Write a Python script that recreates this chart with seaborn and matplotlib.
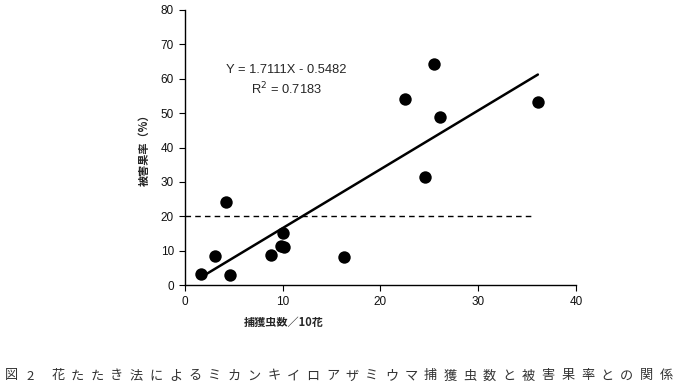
import numpy as np
import pandas as pd
import matplotlib
matplotlib.use("Agg")
import matplotlib.pyplot as plt
import seaborn as sns

# Data
catch_counts = [1.6, 3.1, 4.15, 4.6, 8.75, 9.8, 10.1, 10.05, 16.3, 22.5, 24.6, 25.5, 26.1, 36.1]
damage_rates = [3.2, 8.3, 24.2, 3.0, 8.8, 11.3, 11.1, 15.0, 8.1, 54.2, 31.5, 64.4, 49.0, 53.2]
slope = 1.7111
intercept = -0.5482
r_squared = 0.7183
threshold = 20
threshold_xmax = 35.6
x_ticks = [0, 10, 20, 30, 40]
y_ticks = [0, 10, 20, 30, 40, 50, 60, 70, 80]

sns.set_theme(style="ticks")
plt.rcParams['font.family'] = ['Liberation Sans', 'Noto Sans CJK JP', 'DejaVu Sans']

fig = plt.figure(figsize=(6.8, 3.85), dpi=100)
ax = fig.add_axes([185/680, 1-285/385, (576-185)/680, (285-10)/385])

df = pd.DataFrame({"x": catch_counts, "y": damage_rates})
sns.scatterplot(data=df, x="x", y="y", ax=ax, color="black", s=80,
                edgecolor="black", linewidth=0, zorder=3)

xs = np.array([min(catch_counts), max(catch_counts)])
line_df = pd.DataFrame({"x": xs, "y": slope*xs + intercept})
sns.lineplot(data=line_df, x="x", y="y", ax=ax, color="black", linewidth=1.8)

ax.plot([0, threshold_xmax], [threshold, threshold], color="black",
        linestyle=(0, (4, 3)), linewidth=1.0)

ax.set_xlim(0, 40)
ax.set_ylim(0, 80)
ax.set_xticks(x_ticks)
ax.set_yticks(y_ticks)
ax.tick_params(labelsize=8.5, length=4, width=0.8, color="black", labelcolor="#111111", pad=4)
for s in ["top", "right"]:
    ax.spines[s].set_visible(False)
for s in ["left", "bottom"]:
    ax.spines[s].set_linewidth(1.0)
    ax.spines[s].set_color("black")
ax.set_xlabel("")
ax.set_ylabel("被害果率（%）", fontsize=8, fontweight="bold",
              family=['Noto Sans CJK JP', 'DejaVu Sans'], labelpad=7)

ax.text(10.35, 62.5, f"Y = {slope}X - {abs(intercept)}", ha="center", va="center", fontsize=9.3)
ax.text(10.35, 56.9, f"R$^2$ = {r_squared}", ha="center", va="center", fontsize=9.3)

fig.text(284/680, 1-322/385, "捕獲虫数／10花", ha="center", va="center", fontsize=8,
         fontweight="bold", family=['Noto Sans CJK JP', 'DejaVu Sans'])

caption_head = ["図", "2"]
caption_body = "花たたき法によるミカンキイロアザミウマ捕獲虫数と被害果率との関係"
cap_y = 1 - 376/385
fig.text(11/680, cap_y, caption_head[0], ha="center", va="center", fontsize=9.5,
         family=['Noto Sans CJK JP'], color="#333333")
fig.text(30/680, cap_y, caption_head[1], ha="center", va="center", fontsize=9.5,
         family=['Noto Sans CJK JP'], color="#333333")
n = len(caption_body)
for i, ch in enumerate(caption_body):
    xpos = 58 + i*(666-58)/(n-1)
    fig.text(xpos/680, cap_y, ch, ha="center", va="center", fontsize=9.5,
             family=['Noto Sans CJK JP'], color="#333333")

fig.savefig("out.png", dpi=100)
